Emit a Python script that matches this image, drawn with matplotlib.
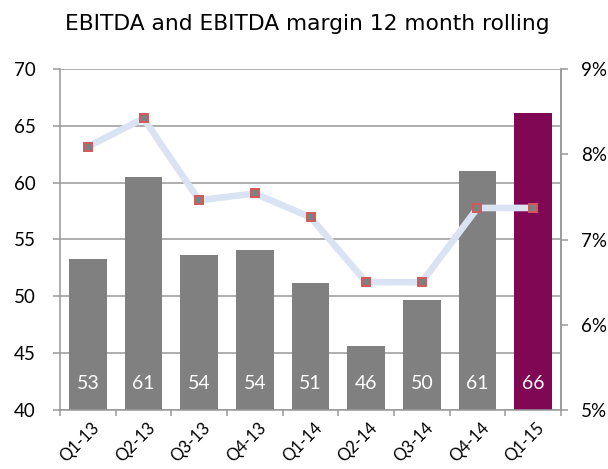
import numpy as np
import matplotlib.pyplot as plt

# EBITDA y margen EBITDA, 12 meses móviles

quarters = ['Q1-13', 'Q2-13', 'Q3-13', 'Q4-13', 'Q1-14', 'Q2-14', 'Q3-14', 'Q4-14', 'Q1-15']
ebitda = [53.3, 60.5, 53.6, 54.1, 51.2, 45.6, 49.7, 61.0, 66.15]
labels = ['53', '61', '54', '54', '51', '46', '50', '61', '66']
margin = [8.09, 8.42, 7.46, 7.54, 7.26, 6.50, 6.50, 7.37, 7.37]

x = np.arange(len(quarters))
colors = ['#808080'] * (len(quarters) - 1) + ['#7F0753']
grid_c = '#989898'
lab_font = 'Lato'

fig = plt.figure(figsize=(6.08, 4.69), dpi=100)
ax = fig.add_axes([60/608, 59/469, 501/608, 341/469])

ax.set_axisbelow(True)
ax.yaxis.grid(True, color=grid_c, linewidth=1.1)
ax.bar(x, ebitda, width=0.68, color=colors, zorder=2)
for xi, lab in zip(x, labels):
    ax.text(xi, 42.35, lab, color='white', ha='center', va='center',
            fontsize=14, family=lab_font, zorder=3)

ax.set_xlim(-0.5, len(quarters) - 0.5)
ax.set_ylim(40, 70)
ax.set_yticks(range(40, 71, 5))
ax.set_yticklabels([str(v) for v in range(40, 71, 5)], family=lab_font)
ax.set_xticks(x + 0.06)
ax.set_xticklabels(quarters, rotation=45, ha='right', va='top',
                   rotation_mode='anchor', fontsize=12, family=lab_font)
ax.set_xticks(np.arange(-0.5, len(quarters)), minor=True)
ax.tick_params(axis='x', which='major', length=0, pad=7)
ax.tick_params(axis='x', which='minor', length=4.5, color=grid_c, width=1.1)
ax.tick_params(axis='y', labelsize=13.5, length=5, color=grid_c, width=1.1, pad=12.5)
ax.spines['top'].set_visible(False)
for s in ['left', 'right', 'bottom']:
    ax.spines[s].set_color(grid_c)
    ax.spines[s].set_linewidth(1.1)

ax2 = ax.twinx()
ax2.plot(x, margin, color='#DAE3F3', linewidth=4.8, zorder=4,
         marker='s', markersize=5.5, markerfacecolor='#808080',
         markeredgecolor='#D05A58', markeredgewidth=1.4)
ax2.set_ylim(5, 9)
ax2.set_yticks(range(5, 10))
ax2.set_yticklabels([f'{v}%' for v in range(5, 10)], family=lab_font)
ax2.tick_params(axis='y', labelsize=13.5, length=5, color=grid_c, width=1.1, pad=9.5)
for s in ['top', 'left', 'bottom']:
    ax2.spines[s].set_visible(False)
ax2.spines['right'].set_color(grid_c)
ax2.spines['right'].set_linewidth(1.1)

title = fig.text(307/608, 1 - 30.5/469, 'EBITDA and EBITDA margin 12 month rolling',
                 ha='center', va='baseline', fontsize=13, family='DejaVu Sans')
# ajustar el tamaño del título al ancho de la referencia (~483 px)
fig.canvas.draw()
w = title.get_window_extent().width
title.set_fontsize(13 * 483 / w)

fig.savefig('out.png', dpi=100)
